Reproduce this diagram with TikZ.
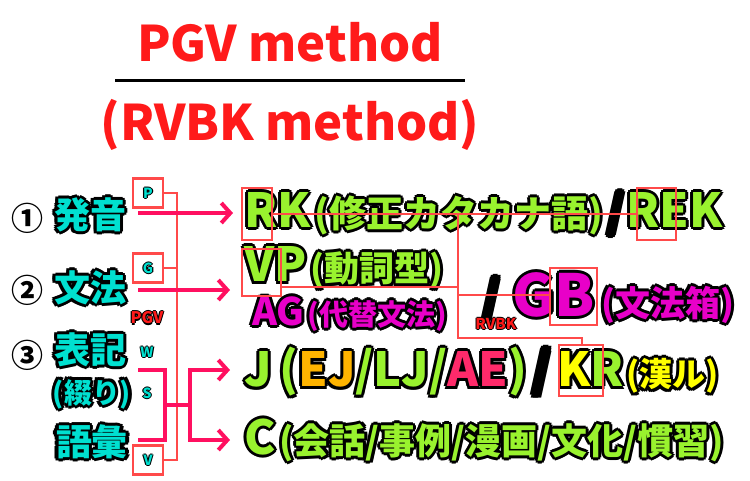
\documentclass[tikz,border=0pt]{standalone}
\usetikzlibrary{arrows.meta}
\usepackage{fontspec}
\setmainfont{Noto Sans CJK JP Black}
\definecolor{cy}{HTML}{00E0D0}
\definecolor{lg}{HTML}{99F22E}
\definecolor{mg}{HTML}{E800C8}
\definecolor{rd}{HTML}{FF1A1A}
\definecolor{cr}{HTML}{FF1060}
\definecolor{bx}{HTML}{FF4A4A}
\definecolor{og}{HTML}{FFB400}
\definecolor{ye}{HTML}{FFFF00}
\definecolor{ae}{HTML}{FF2A6A}
\newcommand\fs[1]{\fontsize{#1}{#1}\selectfont}
\newcommand\oo[3]{\rlap{\raisebox{#2}{\hspace*{#1}\color{black}#3}}}
\newcommand\ol[2]{\oo{-3pt}{0pt}{#2}\oo{3pt}{0pt}{#2}\oo{0pt}{3pt}{#2}\oo{0pt}{-3pt}{#2}\oo{2.1pt}{2.1pt}{#2}\oo{-2.1pt}{2.1pt}{#2}\oo{2.1pt}{-2.1pt}{#2}\oo{-2.1pt}{-2.1pt}{#2}\textcolor{#1}{#2}}
\newcommand\sol[2]{\oo{-1.2pt}{0pt}{#2}\oo{1.2pt}{0pt}{#2}\oo{0pt}{1.2pt}{#2}\oo{0pt}{-1.2pt}{#2}\textcolor{#1}{#2}}
\begin{document}
\begin{tikzpicture}[x=1pt,y=-1pt,
  big/.style={inner sep=0pt,font=\fs{36}},
  med/.style={inner sep=0pt,font=\fs{28}},
  sm/.style={inner sep=0pt,font=\fs{14}},
  lbox/.style={draw=bx,line width=2.5pt},
  thin/.style={draw=bx,line width=1.5pt},
  arr/.style={draw=cr,line width=4pt,-{Straight Barb[length=9pt,width=20pt]}},
  brk/.style={draw=cr,line width=4pt}]
\useasboundingbox (0,0) rectangle (750,480);
\node[font=\fs{49},text=rd,inner sep=0pt] (t1) at (290,42) {PGV method};
\node[font=\fs{49},text=rd,inner sep=0pt] (t2) at (290,125) {(RVBK method)};
\draw[line width=3pt] (115,80) -- (465,80);
% left
\node[big] (n1) at (28,218) {\fs{32}①};
\node[big] (n2) at (28,290) {\fs{32}②};
\node[big] (n3) at (28,355) {\fs{32}③};
\node[big] (h1) at (90,215) {\ol{cy}{発音}};
\node[big] (h2) at (90,288) {\ol{cy}{文法}};
\node[big] (h3) at (90,350) {\ol{cy}{表記}};
\node[med] (h4) at (92,394) {\ol{cy}{(綴り)}};
\node[big] (h5) at (92,442) {\ol{cy}{語彙}};
\node[sm,lbox,minimum width=30pt,minimum height=29pt] (bp) at (148,193) {\sol{cy}{P}};
\node[sm,lbox,minimum width=30pt,minimum height=29pt] (bg) at (148,268) {\sol{cy}{G}};
\node[sm,lbox,minimum width=30pt,minimum height=29pt] (bv) at (148,460) {\sol{cy}{V}};
\node[sm,font=\fs{16}] (pgv) at (147,318) {\sol{rd}{PGV}};
\node[sm] (w) at (147,352) {\sol{cy}{W}};
\node[sm] (s) at (147,393) {\sol{cy}{S}};
\coordinate (vx) at (177,0);
\draw[thin] (bp.east) -- (bp.east -| vx) -- (bv.east -| vx) -- (bv.east);
\draw[thin] (bg.east) -- (bg.east -| vx);
% right
\node[big,anchor=west] (rk) at (244,214) {\ol{lg}{\fs{47}RK}\hspace{4pt}\ol{lg}{\fs{37}(修正カタカナ語)}\hspace{4pt}\ol{black}{\fs{44}/}\hspace{2pt}\ol{lg}{\fs{47}REK}};
\node[big,anchor=west] (vp) at (244,268) {\ol{lg}{\fs{47}VP}\hspace{4pt}\ol{lg}{\fs{35}(動詞型)}};
\node[big,anchor=west] (ag) at (252,314) {\ol{mg}{\fs{38}AG}\hspace{3pt}\ol{mg}{\fs{29}(代替文法)}};
\node[big] (sl) at (492,298) {\ol{black}{\fs{42}/}};
\node[big,anchor=west] (gb) at (512,298) {\ol{mg}{\fs{58}GB}\hspace{6pt}\ol{mg}{\fs{35}(文法箱)}};
\node[sm,font=\fs{15}] (rvbk) at (496,324) {\sol{rd}{RVBK}};
\node[big,anchor=west] (j) at (244,372) {\fs{47}\ol{lg}{J}\hspace{8pt}\ol{lg}{(}\ol{og}{EJ}\ol{lg}{/LJ/}\ol{ae}{AE}\ol{lg}{)}\hspace{6pt}\ol{black}{/}\hspace{6pt}\ol{ye}{K}\ol{lg}{R}\hspace{3pt}\ol{ye}{\fs{33}(漢ル)}};
\node[big,anchor=west] (c) at (244,440) {\ol{lg}{\fs{47}C}\hspace{4pt}\ol{lg}{\fs{36}(会話/事例/漫画/文化/慣習)}};
% red letter boxes
\draw[lbox] (242,188) rectangle (272,240);
\draw[lbox] (637,188) rectangle (676,240);
\draw[lbox] (242,249) rectangle (281,296);
\draw[lbox] (550,268) rectangle (597,325);
\draw[lbox] (559,345) rectangle (603,396);
\coordinate (m) at (458,214);
\draw[thin] (272,214) -- (637,214);
\draw[thin] (m) -- (458,338) -- (582,338) -- (582,345);
\draw[thin] (281,287) -- (458,287);
\draw[thin] (458,295) -- (550,295);
% arrows
\draw[arr] (138,213) -- (233,213);
\draw[arr] (138,290) -- (230,290);
\draw[brk] (138,370) -- (165,370) -- (165,440) -- (138,440);
\draw[brk] (165,405) -- (190,405);
\draw[brk] (190,370) -- (190,440);
\draw[arr] (188,370) -- (230,370);
\draw[arr] (188,440) -- (230,440);
\end{tikzpicture}
\end{document}
